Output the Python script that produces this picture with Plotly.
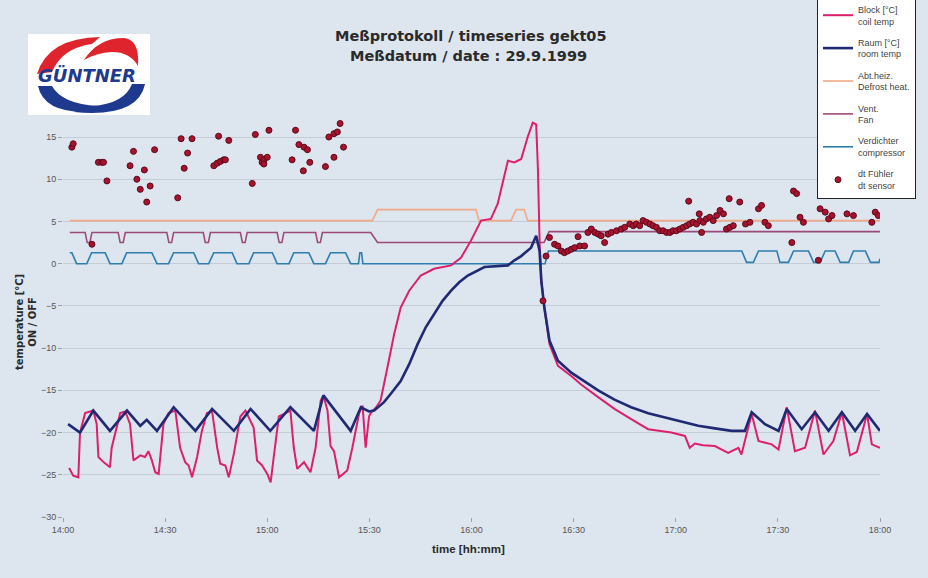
import plotly.graph_objects as go

# ---------------- data (time in minutes after 14:00) ----------------
x_ticks = [0, 30, 60, 90, 120, 150, 180, 210, 240]
x_labels = ["14:00", "14:30", "15:00", "15:30", "16:00", "16:30", "17:00", "17:30", "18:00"]
y_ticks = [-30, -25, -20, -15, -10, -5, 0, 5, 10, 15]

block_t = [1.8, 3.0, 4.5, 5.0, 6.5, 8.9, 9.9, 10.4, 11.9, 13.8, 14.3, 16.8, 18.3, 19.7, 20.7,
           22.7, 24.1, 25.1, 26.1, 27.1, 28.1, 29.5, 31.0, 33.0, 34.4, 35.9, 36.9, 37.9, 39.4,
           40.8, 42.3, 43.8, 45.3, 46.2, 47.7, 48.7, 50.2, 52.1, 53.6, 56.0, 57.0, 58.5, 60.0,
           61.0, 61.9, 63.4, 65.4, 66.8, 67.8, 68.8, 70.8, 72.7, 74.2, 75.7, 76.5, 77.7, 78.6,
           79.6, 81.1, 83.5, 85.0, 87.0, 88.0, 88.9, 89.9, 90.4, 92.0, 93.3, 95.3, 97.3, 99.2,
           101.7, 105.1, 109.0, 114.0, 116.9, 119.8, 122.8, 125.7, 127.7, 130.7, 132.6, 134.6,
           136.5, 138.0, 139.0, 139.5, 140.0, 140.5, 141.4, 142.9, 145.4, 149.3, 152.2, 157.2,
           162.0, 166.9, 171.9, 178.7, 182.7, 184.1, 185.6, 188.0, 191.5, 195.4, 198.4, 199.3,
           202.3, 204.3, 208.2, 210.2, 212.6, 215.0, 218.0, 220.9, 223.4, 226.3, 228.8, 231.2,
           233.2, 236.2, 237.6, 240.0]
block_v = [-24.2, -25.1, -25.3, -20.0, -17.7, -17.4, -19.0, -22.9, -23.5, -24.1, -21.8, -17.7, -17.5,
           -19.0, -23.3, -22.7, -22.9, -22.2, -23.3, -24.7, -24.9, -19.0, -17.7, -17.4, -21.8,
           -23.5, -23.9, -25.3, -22.9, -19.8, -17.7, -17.5, -21.8, -23.7, -23.9, -25.3, -22.5,
           -18.1, -17.4, -19.4, -23.3, -23.9, -24.9, -25.9, -22.9, -18.1, -17.7, -17.4, -21.8,
           -24.3, -23.5, -24.7, -21.8, -16.2, -15.6, -17.4, -21.6, -22.2, -25.3, -24.5, -21.8,
           -17.7, -16.8, -21.8, -18.1, -17.7, -17.0, -16.2, -12.3, -8.3, -5.2, -3.2, -1.4, -0.6,
           -0.2, 0.7, 2.7, 5.1, 5.3, 7.1, 12.2, 12.0, 12.4, 15.0, 16.7, 16.5, 11.4, 2.7, -2.0,
           -5.2, -9.5, -12.1, -13.3, -14.3, -15.8, -17.2, -18.4, -19.6, -20.0, -20.4, -21.8,
           -21.3, -21.5, -21.6, -22.4, -21.8, -22.6, -17.8, -21.0, -21.4, -22.0, -17.0, -22.2,
           -21.8, -17.4, -22.6, -21.0, -17.6, -22.7, -22.3, -17.8, -21.4, -21.8]

raum_t = [1.5, 5.0, 8.9, 13.8, 18.8, 22.7, 24.6, 27.6, 32.5, 38.9, 43.8, 50.2, 55.1, 60.9, 66.8,
          73.7, 76.5, 84.5, 87.5, 89.9, 91.4, 94.3, 96.3, 99.2, 101.7, 104.2, 106.6, 109.0,
          111.5, 114.0, 116.4, 118.9, 123.8, 130.7, 132.6, 134.6, 137.5, 139.0, 140.0, 140.5,
          141.4, 142.9, 145.4, 149.3, 157.2, 162.0, 166.9, 171.9, 176.8, 181.7, 186.6, 191.5,
          196.4, 200.3, 202.3, 206.2, 210.2, 212.6, 217.0, 220.9, 224.9, 228.8, 232.7, 236.2,
          240.0]
raum_v = [-19.0, -20.0, -17.4, -19.8, -17.4, -19.2, -18.5, -19.8, -17.0, -19.8, -17.2, -19.8,
          -17.2, -19.8, -17.0, -19.8, -15.6, -19.8, -17.0, -17.5, -17.4, -16.4, -15.4, -13.9,
          -11.9, -9.5, -7.5, -6.0, -4.4, -3.2, -2.2, -1.4, -0.4, -0.2, 0.4, 0.9, 1.9, 3.3, 1.5,
          -2.0, -5.2, -9.1, -11.5, -12.9, -15.0, -16.1, -17.0, -17.7, -18.2, -18.7, -19.2,
          -19.5, -19.8, -19.8, -17.6, -19.0, -19.8, -17.2, -19.6, -17.6, -19.8, -17.6, -19.8,
          -17.8, -19.8]

abt_t = [2.0, 90.9, 92.4, 121.3, 122.2, 131.6, 133.1, 135.5, 136.5, 240.0]
abt_v = [5.1, 5.1, 6.4, 6.4, 5.1, 5.1, 6.4, 6.4, 5.1, 5.1]

vent_t = [2.0, 6.5, 7.1, 7.9, 8.5, 16.2, 16.8, 17.7, 18.3, 30.5, 31.1, 31.9, 32.5, 41.2, 41.8,
          42.7, 43.3, 52.1, 52.7, 53.5, 54.1, 62.9, 63.5, 64.3, 64.9, 74.2, 74.8, 75.6, 76.2,
          90.4, 92.4, 141.3, 142.8, 240.0]
vent_v = [3.7, 3.7, 2.5, 2.5, 3.7, 3.7, 2.5, 2.5, 3.7, 3.7, 2.5, 2.5, 3.7, 3.7, 2.5, 2.5, 3.7,
          3.7, 2.5, 2.5, 3.7, 3.7, 2.5, 2.5, 3.7, 3.7, 2.5, 2.5, 3.7, 3.7, 2.5, 2.5, 3.8, 3.8]

verd_t = [2.0, 2.6, 4.0, 7.0, 8.4, 12.4, 13.8, 17.3, 18.7, 26.1, 27.6, 31.0, 32.5, 38.4, 39.8,
          42.8, 44.3, 49.7, 51.1, 54.6, 56.0, 61.5, 62.9, 66.4, 67.8, 72.2, 73.7, 77.1, 78.6,
          83.0, 84.5, 86.8, 87.2, 87.7, 88.1, 141.6, 142.6, 199.4, 200.8, 202.8, 204.3, 209.7,
          210.6, 213.1, 214.6, 219.0, 220.5, 222.4, 223.9, 226.8, 228.3, 230.8, 232.2, 235.7,
          237.2, 239.7, 240.0]
verd_v = [1.3, 1.3, 0.0, 0.0, 1.3, 1.3, 0.0, 0.0, 1.3, 1.3, 0.0, 0.0, 1.3, 1.3, 0.0, 0.0, 1.3,
          1.3, 0.0, 0.0, 1.3, 1.3, 0.0, 0.0, 1.3, 1.3, 0.0, 0.0, 1.3, 1.3, 0.0, 0.0, 1.3, 1.3,
          0.0, 0.0, 1.5, 1.5, 0.15, 0.15, 1.5, 1.5, 0.15, 0.15, 1.5, 1.5, 0.15, 0.15, 1.5, 1.5,
          0.15, 0.15, 1.5, 1.5, 0.15, 0.15, 0.6]

dt_t = [2.6, 3.0, 8.5, 10.4, 11.4, 11.9, 12.9, 19.7, 20.7, 21.7, 22.7, 23.9, 24.6, 25.6, 26.9,
        33.7, 34.7, 35.6, 36.6, 37.9, 44.3, 45.3, 45.7, 46.2, 47.2, 47.7, 48.7, 55.6, 56.5,
        58.0, 58.5, 59.0, 59.0, 60.0, 60.5, 67.3, 68.3, 69.3, 70.6, 70.8, 71.8, 72.5, 77.1,
        78.1, 79.6, 79.6, 80.6, 81.4, 82.4,
        141.0, 141.9, 142.9, 144.4, 145.4, 146.4, 147.3, 148.3, 149.3, 150.3, 151.3, 151.8,
        153.2, 154.2, 155.2, 156.2, 157.2, 158.1, 159.1, 160.1, 161.1, 162.6, 164.0, 165.0,
        166.5, 167.5, 168.4, 169.4, 170.4, 171.4, 172.4, 173.3, 174.3, 175.3, 176.3, 177.3,
        178.3, 179.2, 180.2, 181.2, 182.2, 183.2, 183.8, 184.1, 185.1, 186.1, 186.9, 187.1,
        187.6, 188.1, 189.0, 190.0, 191.0, 192.0, 193.0, 194.0, 194.9, 195.7, 195.9, 196.9,
        198.8, 200.5, 201.8, 204.3, 205.2, 206.2, 207.2, 214.1, 214.6, 215.5, 216.5, 217.5,
        221.9, 222.4, 223.9, 224.9, 225.9, 230.3, 232.2, 237.6, 238.6, 239.5]
dt_v = [13.8, 14.2, 2.3, 12.0, 12.0, 12.0, 9.8, 11.6, 13.3, 10.0, 8.8, 11.1, 7.3, 9.2, 13.5,
        7.8, 14.8, 11.3, 13.1, 14.8, 11.6, 11.9, 15.1, 12.1, 12.3, 12.3, 14.6, 9.5, 15.3,
        12.6, 12.0, 12.3, 11.8, 12.6, 15.8, 12.3, 15.8, 14.1, 11.0, 13.8, 13.5, 12.0, 11.5,
        15.0, 15.4, 12.6, 15.6, 16.6, 13.8,
        -4.4, 0.9, 3.1, 2.3, 2.1, 1.5, 1.3, 1.5, 1.7, 1.9, 3.2, 2.1,
        2.1, 3.7, 4.1, 3.7, 3.5, 3.3, 2.5, 3.5, 3.7, 3.9, 4.1, 4.3,
        4.7, 4.5, 4.7, 4.5, 5.1, 4.9, 4.7, 4.5, 4.3, 3.9, 3.9, 3.7,
        3.7, 3.9, 3.9, 4.1, 4.3, 4.5, 7.4, 4.7, 4.9, 4.7, 5.9, 5.1,
        3.7, 4.9, 5.3, 5.5, 5.1, 5.7, 6.3, 5.9, 4.1, 7.7, 4.3, 4.5,
        7.3, 4.7, 4.9, 6.5, 6.9, 4.9, 4.5, 2.5, 8.6, 8.3, 5.5, 4.9,
        0.4, 6.5, 6.1, 5.3, 5.7, 5.9, 5.7, 4.9, 6.1, 5.7]

# ---------------- layout geometry ----------------
W, H = 928, 578
ML, MR, MT, MB = 63, 48, 103, 61
PW, PH = W - ML - MR, H - MT - MB
Y_MIN = -30
Y_MAX = Y_MIN + PH / 8.444


def X(px):
    return (px - ML) / PW


def Y(py):
    return (H - MB - py) / PH


def path(pts):
    out = []
    for item in pts:
        if isinstance(item, str):
            out.append(item)
        else:
            out.append(f"{X(item[0]):.4f},{Y(item[1]):.4f}")
    return " ".join(out)


BG = "#dde5ee"
FONT = "Liberation Sans, Arial, sans-serif"
WIDE = "DejaVu Sans, Verdana, sans-serif"

fig = go.Figure()

fig.add_trace(go.Scatter(x=block_t, y=block_v, mode="lines", name="Block [°C]<br>coil temp",
                         line=dict(color="#dc1f6e", width=2), legendgroup="g1", zorder=1))
fig.add_trace(go.Scatter(x=raum_t, y=raum_v, mode="lines", name="Raum [°C]<br>room temp",
                         line=dict(color="#202a72", width=2.6), legendgroup="g2", zorder=2))
fig.add_trace(go.Scatter(x=abt_t, y=abt_v, mode="lines", name="Abt.heiz.<br>Defrost heat.",
                         line=dict(color="#f2a987", width=1.6), legendgroup="g3", zorder=0))
fig.add_trace(go.Scatter(x=vent_t, y=vent_v, mode="lines", name="Vent.<br>Fan",
                         line=dict(color="#9c4a7a", width=1.6), legendgroup="g4", zorder=0))
fig.add_trace(go.Scatter(x=verd_t, y=verd_v, mode="lines", name="Verdichter<br>compressor",
                         line=dict(color="#2f7eae", width=1.6), legendgroup="g5", zorder=0))
fig.add_trace(go.Scatter(x=dt_t, y=dt_v, mode="markers", name="dt Fühler<br>dt sensor",
                         marker=dict(color="#a8122e", size=6, line=dict(color="#5a0a1a", width=1)),
                         legendgroup="g6", zorder=3))

# logo (decoration)
RED = "#e0242e"
BLUE = "#1e3a8e"
shapes = [
    dict(type="rect", xref="paper", yref="paper", x0=X(28), x1=X(150), y0=Y(115), y1=Y(34),
         fillcolor="white", line=dict(width=0), layer="above"),
    dict(type="path", xref="paper", yref="paper", fillcolor=RED, line=dict(width=0), layer="above",
         path=path(["M", (37, 74), "Q", (48, 38), (100, 37), "L", (92, 44), "Q", (62, 48), (52, 72), "Z"])),
    dict(type="path", xref="paper", yref="paper", fillcolor=RED, line=dict(width=0), layer="above",
         path=path(["M", (84, 60), "Q", (98, 38), (124, 38), "Q", (140, 40), (138, 66), "Q", (130, 52), (112, 52),
                    "Q", (96, 53), (84, 60), "Z"])),
    dict(type="path", xref="paper", yref="paper", fillcolor=BLUE, line=dict(width=0), layer="above",
         path=path(["M", (38, 86), "Q", (44, 114), (92, 112), "L", (98, 106), "Q", (62, 104), (52, 86), "Z"])),
    dict(type="path", xref="paper", yref="paper", fillcolor=BLUE, line=dict(width=0), layer="above",
         path=path(["M", (74, 112), "Q", (138, 118), (145, 84), "L", (132, 84), "Q", (124, 104), (92, 106),
                    "Z"])),
]

annotations = [
    dict(text="<b><i>GÜNTNER</i></b>", x=X(87), y=Y(76), xref="paper", yref="paper", showarrow=False,
         font=dict(family=WIDE, size=18, color=BLUE), xanchor="center", yanchor="middle"),
    dict(text="<b>Meßprotokoll / timeseries gekt05</b>", x=X(471), y=Y(36), xref="paper", yref="paper",
         showarrow=False, font=dict(family=WIDE, size=14.5, color="#2a2a2a"),
         xanchor="center", yanchor="middle"),
    dict(text="<b>Meßdatum / date : 29.9.1999</b>", x=X(468), y=Y(56), xref="paper", yref="paper",
         showarrow=False, font=dict(family=WIDE, size=14.5, color="#2a2a2a"),
         xanchor="center", yanchor="middle"),
    dict(text="<b>temperature [°C]<br>ON / OFF</b>", x=X(26), y=Y(322), xref="paper", yref="paper",
         showarrow=False, textangle=-90, font=dict(family=WIDE, size=10, color="#2a2a2a"),
         xanchor="center", yanchor="middle"),
    dict(text="<b>time [hh:mm]</b>", x=X(468), y=Y(549), xref="paper", yref="paper",
         showarrow=False, font=dict(family=FONT, size=11.5, color="#2a2a2a"),
         xanchor="center", yanchor="middle"),
]

fig.update_layout(
    width=W, height=H,
    margin=dict(l=ML, r=MR, t=MT, b=MB, autoexpand=False),
    paper_bgcolor=BG, plot_bgcolor=BG,
    font=dict(family=FONT, color="#444"),
    showlegend=True,
    legend=dict(x=X(817), y=Y(-4), xanchor="left", yanchor="top", bgcolor="white",
                bordercolor="#222", borderwidth=1, font=dict(family=FONT, size=9, color="#444"),
                traceorder="grouped", itemwidth=30, tracegroupgap=6.5),
    xaxis=dict(range=[0, 240], tickvals=x_ticks, ticktext=x_labels, showgrid=False, zeroline=False,
               showline=True, linecolor="#9aa2ad", linewidth=1, ticks="outside", ticklen=4,
               tickcolor="#9aa2ad", tickfont=dict(size=9, color="#555")),
    yaxis=dict(range=[Y_MIN, Y_MAX], tickvals=y_ticks, showgrid=True, gridcolor="#c4ccd6",
               gridwidth=1, zeroline=False, showline=True, mirror=True, linecolor="#9aa2ad",
               linewidth=1, ticks="outside", ticklen=4, tickcolor="#9aa2ad",
               tickfont=dict(size=9, color="#555")),
    shapes=shapes,
    annotations=annotations,
)

fig.write_html("out.html", config={"displayModeBar": False},
               post_script="document.body.style.margin='0px';document.body.style.background='" + BG + "';")
